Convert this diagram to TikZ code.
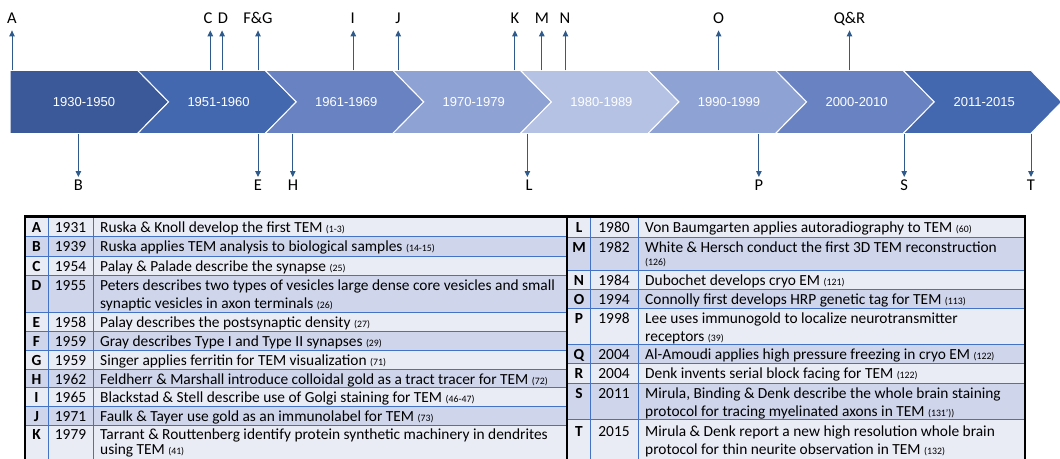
\documentclass[tikz,border=0pt]{standalone}
\usepackage{fontspec}
\setmainfont{Carlito}
\newfontfamily\arialf{Liberation Sans}
\usetikzlibrary{arrows.meta}
\definecolor{segA}{HTML}{3B5998}
\definecolor{segB}{HTML}{4468B0}
\definecolor{segC}{HTML}{6882C2}
\definecolor{segD}{HTML}{8FA2D4}
\definecolor{segE}{HTML}{B5C2E3}
\definecolor{arrowc}{HTML}{2F5B8C}
\definecolor{rowlight}{HTML}{E9EBF5}
\definecolor{rowdark}{HTML}{CFD5EA}
\definecolor{gridc}{HTML}{4472C4}
\newcommand{\refn}[1]{{\fontsize{9.8pt}{12pt}\selectfont(#1)}}
\newcommand{\chev}[2]{\filldraw[seg,fill=#2] (#1,70.3) -- ++(127.6,0) -- ++(31,31.6) -- ++(-31,31.6) -- ++(-127.6,0) -- ++(31,-31.6) -- cycle;}
\newcommand{\rowL}[6]{\fill[#4] (25,#2) rectangle (567,#3);
  \node[cellb] (k#1) at (36.5,#6) {#1};
  \node[cellc] (y#1) at (70.5,#6) {#5};}
\newcommand{\rowR}[6]{\fill[#4] (567,#2) rectangle (1025,#3);
  \node[cellb] (k#1) at (579,#6) {#1};
  \node[cellc] (y#1) at (614,#6) {#5};}
\tikzset{
  seg/.style={draw=white,line width=1pt,line join=miter},
  segtxt/.style={text=white,font=\arialf\fontsize{13pt}{15pt}\selectfont,inner sep=0pt},
  arr/.style={draw=arrowc,line width=1pt,-{Triangle[width=5.5pt,length=6pt]}},
  lab/.style={font=\fontsize{16.5pt}{18pt}\selectfont,inner sep=0pt,anchor=base},
  cell/.style={font=\fontsize{15.4pt}{18.8pt}\selectfont,inner sep=0pt,anchor=base west},
  cellc/.style={font=\fontsize{15.4pt}{18.8pt}\selectfont,inner sep=0pt,anchor=base},
  cellb/.style={font=\bfseries\fontsize{15.4pt}{18.8pt}\selectfont,inner sep=0pt,anchor=base},
  gridl/.style={draw=gridc,line width=0.9pt},
  frame/.style={draw=black,line width=2.5pt},
}
\begin{document}
\begin{tikzpicture}[x=1pt,y=-1pt]
\useasboundingbox (0,0) rectangle (1060,458);
\clip (0,0) rectangle (1060,458);
\fill[white] (0,0) rectangle (1060,458);
% ---------- chevron band ----------
\filldraw[seg,fill=segA] (10,70.3) -- (137.6,70.3) -- (168.6,101.9) -- (137.6,133.5) -- (10,133.5) -- cycle;
\chev{137.6}{segB}
\chev{265.2}{segC}
\chev{392.8}{segD}
\chev{520.4}{segE}
\chev{648}{segD}
\chev{775.6}{segC}
\chev{903.2}{segB}
\node[segtxt] (s1) at (84,101.9) {1930-1950};
\node[segtxt] (s2) at (218.6,101.9) {1951-1960};
\node[segtxt] (s3) at (346.2,101.9) {1961-1969};
\node[segtxt] (s4) at (473.8,101.9) {1970-1979};
\node[segtxt] (s5) at (601.4,101.9) {1980-1989};
\node[segtxt] (s6) at (729,101.9) {1990-1999};
\node[segtxt] (s7) at (856.6,101.9) {2000-2010};
\node[segtxt] (s8) at (984.2,101.9) {2011-2015};
% ---------- top markers ----------
\foreach \n/\x/\lx/\t in {A/12/12/A, C/210.3/208/C, D/222.1/223/D, FG/258/258/F\&G, I/353.3/352.6/I, J/398.2/398/J, K/514.9/515/K, M/541.8/541.8/M, N/565.5/565/N, O/718.6/718.6/O, QR/849.5/849.5/Q\&R}{
  \node[lab] (l\n) at (\lx,23.7) {\t};
  \coordinate (a\n) at (\x,70.3);
  \coordinate (e\n) at (\x,30.4);
  \draw[arr] (a\n) -- (e\n);
}
% ---------- bottom markers ----------
\foreach \n/\x/\lx/\t in {B/78.4/78.4/B, E/258/258/E, H/292.8/293/H, L/527.4/529/L, P/758.9/758.9/P, S/904.2/904.2/S, T/1031/1031/T}{
  \node[lab] (l\n) at (\lx,190) {\t};
  \coordinate (a\n) at (\x,133.5);
  \coordinate (e\n) at (\x,177);
  \draw[arr] (a\n) -- (e\n);
}
% ---------- left table ----------
\rowL{A}{216.5}{236.7}{rowlight}{1931}{232.5}
\rowL{B}{236.7}{256}{rowdark}{1939}{251.7}
\rowL{C}{256}{275}{rowlight}{1954}{271}
\rowL{D}{275}{312.3}{rowdark}{1955}{290}
\rowL{E}{312.3}{331}{rowlight}{1958}{327.3}
\rowL{F}{331}{350}{rowdark}{1959}{346}
\rowL{G}{350}{369}{rowlight}{1959}{365}
\rowL{H}{369}{387.7}{rowdark}{1962}{384}
\rowL{I}{387.7}{406}{rowlight}{1965}{402.7}
\rowL{J}{406}{425}{rowdark}{1971}{421}
\rowL{K}{425}{463}{rowlight}{1979}{439}
% ---------- right table ----------
\rowR{L}{216.5}{237}{rowlight}{1980}{232.5}
\rowR{M}{237}{270}{rowdark}{1982}{252}
\rowR{N}{270}{289}{rowlight}{1984}{285}
\rowR{O}{289}{308}{rowdark}{1994}{304}
\rowR{P}{308}{344.5}{rowlight}{1998}{323}
\rowR{Q}{344.5}{363.5}{rowdark}{2004}{359.5}
\rowR{R}{363.5}{383}{rowlight}{2004}{378.5}
\rowR{S}{383}{419.5}{rowdark}{2011}{398}
\rowR{T}{419.5}{463}{rowlight}{2015}{436}
% grid lines
\foreach \y in {236.7,256,275,312.3,331,350,369,387.7,406,425}{\draw[gridl] (25,\y) -- (567,\y);}
\foreach \y in {237,270,289,308,344.5,363.5,383,419.5}{\draw[gridl] (567,\y) -- (1025,\y);}
\foreach \x in {48,93,590,638}{\draw[gridl] (\x,216.5) -- (\x,463);}
% texts left
\node[cell] (tA) at (100,232.5) {Ruska \& Knoll develop the first TEM \refn{1-3}};
\node[cell] (tB) at (100,251.7) {Ruska applies TEM analysis to biological samples \refn{14-15}};
\node[cell] (tC) at (100,271) {Palay \& Palade describe the synapse \refn{25}};
\node[cell] (tD1) at (100,290) {Peters describes two types of vesicles large dense core vesicles and small};
\node[cell] (tD2) at (100,308.8) {synaptic vesicles in axon terminals \refn{26}};
\node[cell] (tE) at (100,327.3) {Palay describes the postsynaptic density \refn{27}};
\node[cell] (tF) at (100,346) {Gray describes Type I and Type II synapses \refn{29}};
\node[cell] (tG) at (100,365) {Singer applies ferritin for TEM visualization \refn{71}};
\node[cell] (tH) at (100,384) {Feldherr \& Marshall introduce colloidal gold as a tract tracer for TEM \refn{72}};
\node[cell] (tI) at (100,402.7) {Blackstad \& Stell describe use of Golgi staining for TEM \refn{46-47}};
\node[cell] (tJ) at (100,421) {Faulk \& Tayer use gold as an immunolabel for TEM \refn{73}};
\node[cell] (tK1) at (100,439) {Tarrant \& Routtenberg identify protein synthetic machinery in dendrites};
\node[cell] (tK2) at (100,454.3) {using TEM \refn{41}};
% texts right
\node[cell] (tL) at (645,232.5) {Von Baumgarten applies autoradiography to TEM \refn{60}};
\node[cell] (tM1) at (645,252) {White \& Hersch conduct the first 3D TEM reconstruction};
\node[cell] (tM2) at (645,265.5) {\refn{126}};
\node[cell] (tN) at (645,285) {Dubochet develops cryo EM \refn{121}};
\node[cell] (tO) at (645,304) {Connolly first develops HRP genetic tag for TEM \refn{113}};
\node[cell] (tP1) at (645,323) {Lee uses immunogold to localize neurotransmitter};
\node[cell] (tP2) at (645,341.8) {receptors \refn{39}};
\node[cell] (tQ) at (645,359.5) {Al-Amoudi applies high pressure freezing in cryo EM \refn{122}};
\node[cell] (tR) at (645,378.5) {Denk invents serial block facing for TEM \refn{122}};
\node[cell] (tS1) at (645,398) {Mirula, Binding \& Denk describe the whole brain staining};
\node[cell] (tS2) at (645,416.8) {protocol for tracing myelinated axons in TEM \refn{131')}};
\node[cell] (tT1) at (645,436) {Mirula \& Denk report a new high resolution whole brain};
\node[cell] (tT2) at (645,454) {protocol for thin neurite observation in TEM \refn{132}};
% frames
\draw[frame] (25,216.5) rectangle (567,463);
\draw[frame] (567,216.5) rectangle (1025,463);
\end{tikzpicture}
\end{document}
